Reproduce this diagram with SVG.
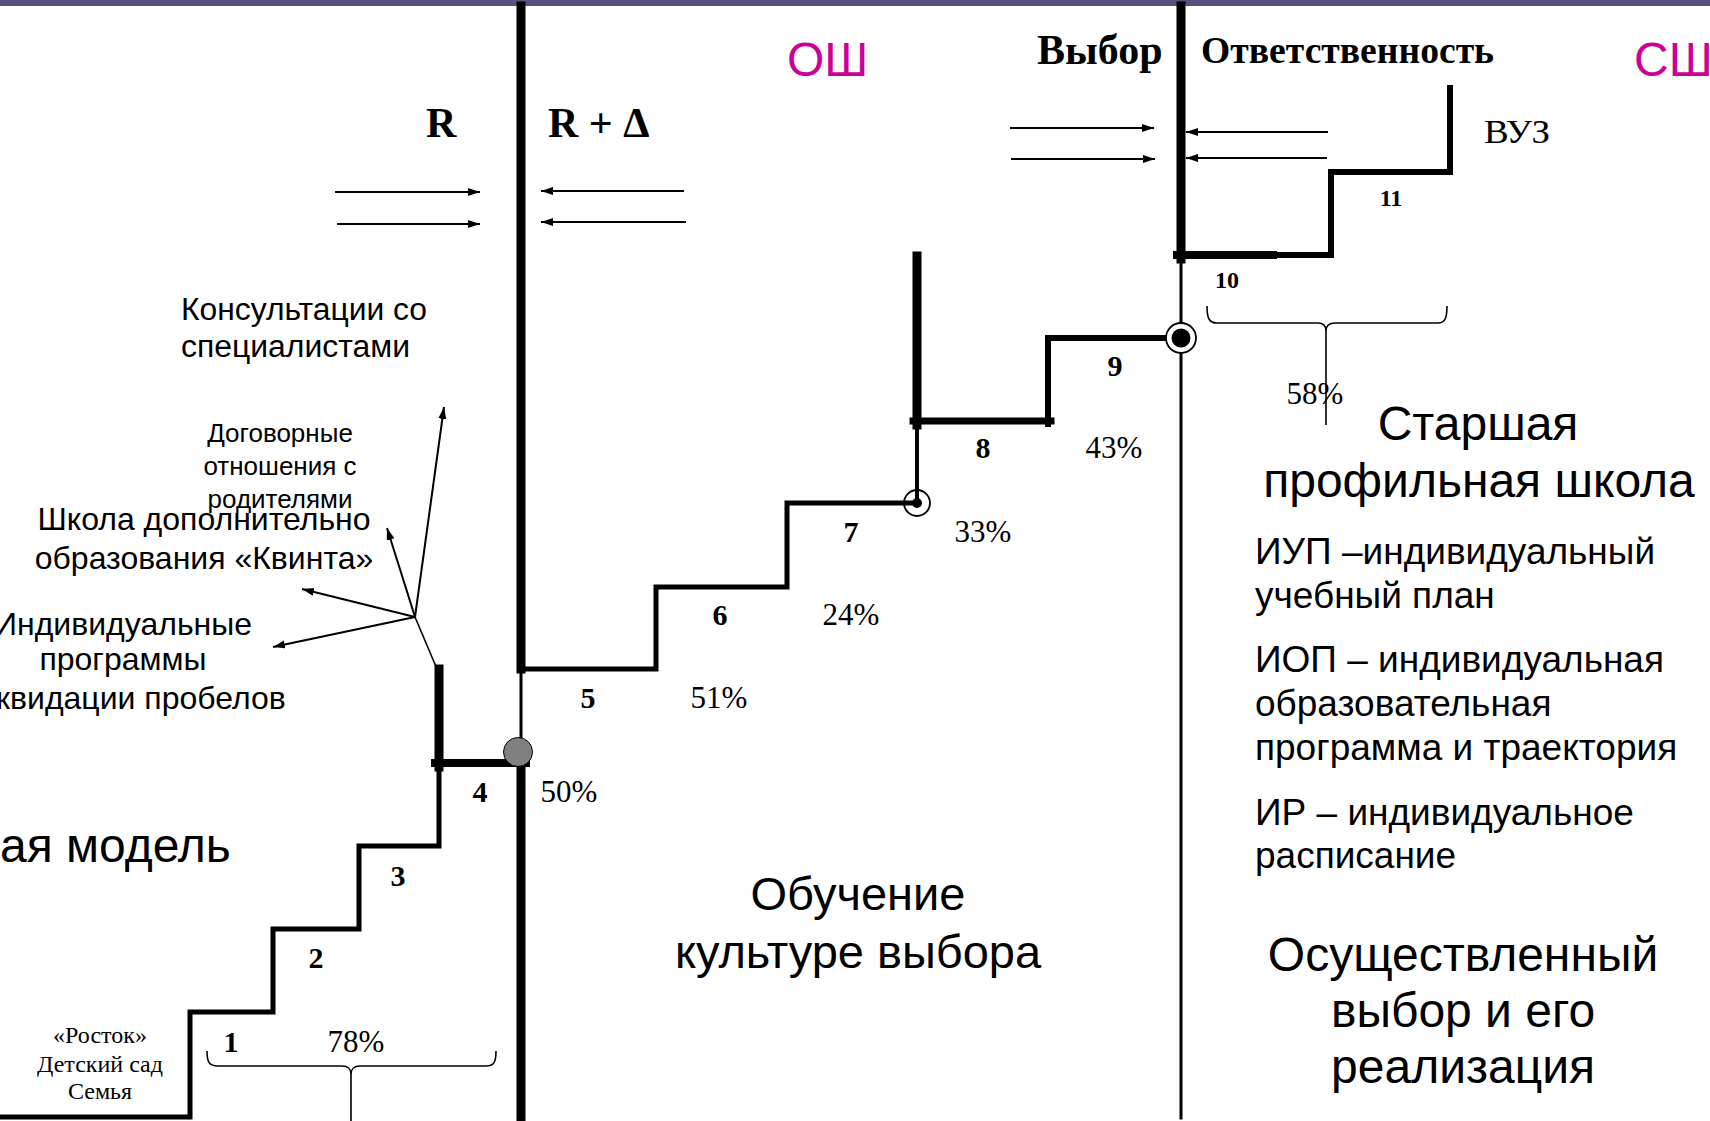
<svg xmlns="http://www.w3.org/2000/svg" width="1710" height="1121" viewBox="0 0 1710 1121">
<defs>
<style>
.serif{font-family:"Liberation Serif","Times New Roman",serif;fill:#000}
.sans{font-family:"Liberation Sans",Arial,sans-serif;fill:#000}
.b{font-weight:bold}
.num{font-family:"Liberation Serif","Times New Roman",serif;font-weight:bold;font-size:30px;text-anchor:middle}
.pct{font-family:"Liberation Serif","Times New Roman",serif;font-size:31px;text-anchor:middle}
.mid{text-anchor:middle}
.ln{fill:none;stroke:#000;stroke-linecap:square;stroke-linejoin:miter}
.arr{fill:none;stroke:#000;stroke-width:2;marker-end:url(#ah)}
.thin{fill:none;stroke:#000;stroke-width:1.6}
.mag{fill:#cc0099;font-family:"Liberation Sans",Arial,sans-serif;font-size:48px}
</style>
<marker id="ah" markerUnits="userSpaceOnUse" markerWidth="13" markerHeight="9" refX="12" refY="4" orient="auto">
<path d="M0,0 L12,4 L0,8 z" fill="#000"/>
</marker>
</defs>
<rect width="1710" height="1121" fill="#fff"/>
<rect id="top-bar" x="0" y="0" width="1710" height="6" fill="#56517f"/>

<g id="dividers">
<line class="ln" x1="521" y1="6" x2="521" y2="669" stroke-width="9" stroke-linecap="butt"/>
<line class="ln" x1="521" y1="669" x2="521" y2="752" stroke-width="3" stroke-linecap="butt"/>
<line class="ln" x1="521" y1="752" x2="521" y2="1118" stroke-width="9" stroke-linecap="butt"/>
<line class="ln" x1="1181" y1="6" x2="1181" y2="259" stroke-width="9" stroke-linecap="butt"/>
<line class="ln" x1="1181" y1="255" x2="1181" y2="1118" stroke-width="3" stroke-linecap="butt"/>
</g>

<g id="staircase">
<polyline class="ln" stroke-width="5" points="0,1117 190,1117 190,1012 273,1012 273,929 359,929 359,846 439,846 439,763"/>
<line class="ln" x1="439" y1="669" x2="439" y2="767" stroke-width="9" stroke-linecap="butt"/>
<line class="ln" x1="435" y1="763" x2="526" y2="763" stroke-width="8" stroke-linecap="butt"/>
<polyline class="ln" stroke-width="5" points="521,669 656,669 656,587 787,587 787,503 917,503"/>
<line class="ln" x1="917" y1="503" x2="917" y2="421" stroke-width="4" stroke-linecap="butt"/>
<line class="ln" x1="917" y1="256" x2="917" y2="425" stroke-width="9" stroke-linecap="butt"/>
<line class="ln" x1="913" y1="421" x2="1051" y2="421" stroke-width="7" stroke-linecap="butt"/>
<polyline class="ln" stroke-width="6" points="1048,424 1048,338 1181,338"/>
<line class="ln" x1="1177" y1="255" x2="1273" y2="255" stroke-width="8" stroke-linecap="butt"/>
<polyline class="ln" stroke-width="6" points="1273,255 1331,255 1331,172 1450,172 1450,88"/>
</g>

<g id="node-circle-50">
<circle cx="518" cy="752" r="14.5" fill="#808080" stroke="#000" stroke-width="1"/>
</g>
<g id="node-circle-33">
<circle cx="917" cy="503" r="13" fill="none" stroke="#000" stroke-width="1.8"/>
<circle cx="917" cy="503" r="5" fill="#000"/>
</g>
<g id="node-circle-9">
<circle cx="1181" cy="338" r="15" fill="#fff" stroke="#000" stroke-width="1.8"/>
<circle cx="1181" cy="338" r="9.5" fill="#000"/>
</g>

<g id="connectors">
<line class="arr" x1="335" y1="192" x2="480" y2="192"/>
<line class="arr" x1="337" y1="224" x2="480" y2="224"/>
<line class="arr" x1="684" y1="191" x2="541" y2="191"/>
<line class="arr" x1="686" y1="222" x2="541" y2="222"/>
<line class="arr" x1="1010" y1="128" x2="1154" y2="128"/>
<line class="arr" x1="1011" y1="159" x2="1155" y2="159"/>
<line class="arr" x1="1328" y1="132" x2="1186" y2="132"/>
<line class="arr" x1="1327" y1="158" x2="1186" y2="158"/>
<line class="thin" x1="437" y1="669" x2="415" y2="617" stroke-width="2"/>
<line class="arr" x1="415" y1="617" x2="444" y2="407"/>
<line class="arr" x1="415" y1="617" x2="387" y2="528"/>
<line class="arr" x1="415" y1="617" x2="302" y2="589"/>
<line class="arr" x1="415" y1="617" x2="273" y2="647"/>
</g>

<g id="brackets">
<path class="thin" d="M207,1051 C207,1062 209,1066 218,1066 L342,1066 C348,1066 351,1068 351,1075 L351,1121 M351,1075 C351,1068 354,1066 360,1066 L486,1066 C494,1066 496,1062 496,1051"/>
<path class="thin" d="M1207,306 C1207,318 1209,323 1217,323 L1318,323 C1323,323 1326,325 1326,331 L1326,425 M1326,331 C1326,325 1329,323 1335,323 L1438,323 C1445,323 1447,318 1447,306"/>
</g>

<g id="step-labels">
<text class="num" x="231" y="1052">1</text>
<text class="num" x="316" y="968">2</text>
<text class="num" x="398" y="886">3</text>
<text class="num" x="480" y="802">4</text>
<text class="num" x="588" y="708">5</text>
<text class="num" x="720" y="625">6</text>
<text class="num" x="851" y="542">7</text>
<text class="num" x="983" y="458">8</text>
<text class="num" x="1115" y="376">9</text>
<text class="num" x="1227" y="288" style="font-size:24px">10</text>
<text class="num" x="1391" y="206" style="font-size:24px">11</text>
</g>

<g id="percent-labels">
<text class="pct" x="356" y="1052">78%</text>
<text class="pct" x="569" y="802">50%</text>
<text class="pct" x="719" y="708">51%</text>
<text class="pct" x="851" y="625">24%</text>
<text class="pct" x="983" y="542">33%</text>
<text class="pct" x="1114" y="458">43%</text>
<text class="pct" x="1315" y="404">58%</text>
</g>

<g id="header-labels">
<text class="serif b" x="426" y="137" font-size="42">R</text>
<text class="serif b" x="548" y="137" font-size="42">R + Δ</text>
<text class="serif b" x="1037" y="64" font-size="42">Выбор</text>
<text class="serif b" x="1201" y="63" font-size="38" textLength="293" lengthAdjust="spacingAndGlyphs">Ответственность</text>
<text class="mag" x="787" y="76">ОШ</text>
<text class="mag" x="1634" y="76">СШ</text>
<text class="serif" x="1484" y="143" font-size="34" textLength="66" lengthAdjust="spacingAndGlyphs">ВУЗ</text>
</g>

<g id="left-notes">
<text class="sans" x="181" y="320" font-size="31" textLength="246" lengthAdjust="spacingAndGlyphs">Консультации со</text>
<text class="sans" x="181" y="357" font-size="31" textLength="229" lengthAdjust="spacingAndGlyphs">специалистами</text>
<text class="sans mid" x="280" y="442" font-size="26">Договорные</text>
<text class="sans mid" x="280" y="475" font-size="26">отношения с</text>
<text class="sans mid" x="280" y="508" font-size="26">родителями</text>
<text class="sans mid" x="204" y="530" font-size="32">Школа дополнительно</text>
<text class="sans mid" x="204" y="569" font-size="32">образования «Квинта»</text>
<text class="sans mid" x="123" y="635" font-size="32">Индивидуальные</text>
<text class="sans mid" x="123" y="670" font-size="32">программы</text>
<text class="sans" x="-4" y="709" font-size="32">квидации пробелов</text>
<text class="sans" x="0" y="862" font-size="48">ая модель</text>
<text class="serif mid" x="100" y="1043" font-size="24">«Росток»</text>
<text class="serif mid" x="100" y="1072" font-size="24">Детский сад</text>
<text class="serif mid" x="100" y="1099" font-size="24">Семья</text>
</g>

<g id="middle-notes">
<text class="sans mid" x="858" y="910" font-size="47">Обучение</text>
<text class="sans mid" x="858" y="968" font-size="47">культуре выбора</text>
</g>

<g id="right-notes">
<text class="sans mid" x="1478" y="440" font-size="48">Старшая</text>
<text class="sans mid" x="1479" y="497" font-size="48">профильная школа</text>
<text class="sans" x="1255" y="564" font-size="37">ИУП –индивидуальный</text>
<text class="sans" x="1255" y="608" font-size="37">учебный план</text>
<text class="sans" x="1255" y="672" font-size="37">ИОП – индивидуальная</text>
<text class="sans" x="1255" y="716" font-size="37">образовательная</text>
<text class="sans" x="1255" y="760" font-size="37">программа и траектория</text>
<text class="sans" x="1255" y="825" font-size="37">ИР – индивидуальное</text>
<text class="sans" x="1255" y="868" font-size="37">расписание</text>
<text class="sans mid" x="1463" y="971" font-size="48">Осуществленный</text>
<text class="sans mid" x="1463" y="1027" font-size="48">выбор и его</text>
<text class="sans mid" x="1463" y="1083" font-size="48">реализация</text>
</g>
</svg>
